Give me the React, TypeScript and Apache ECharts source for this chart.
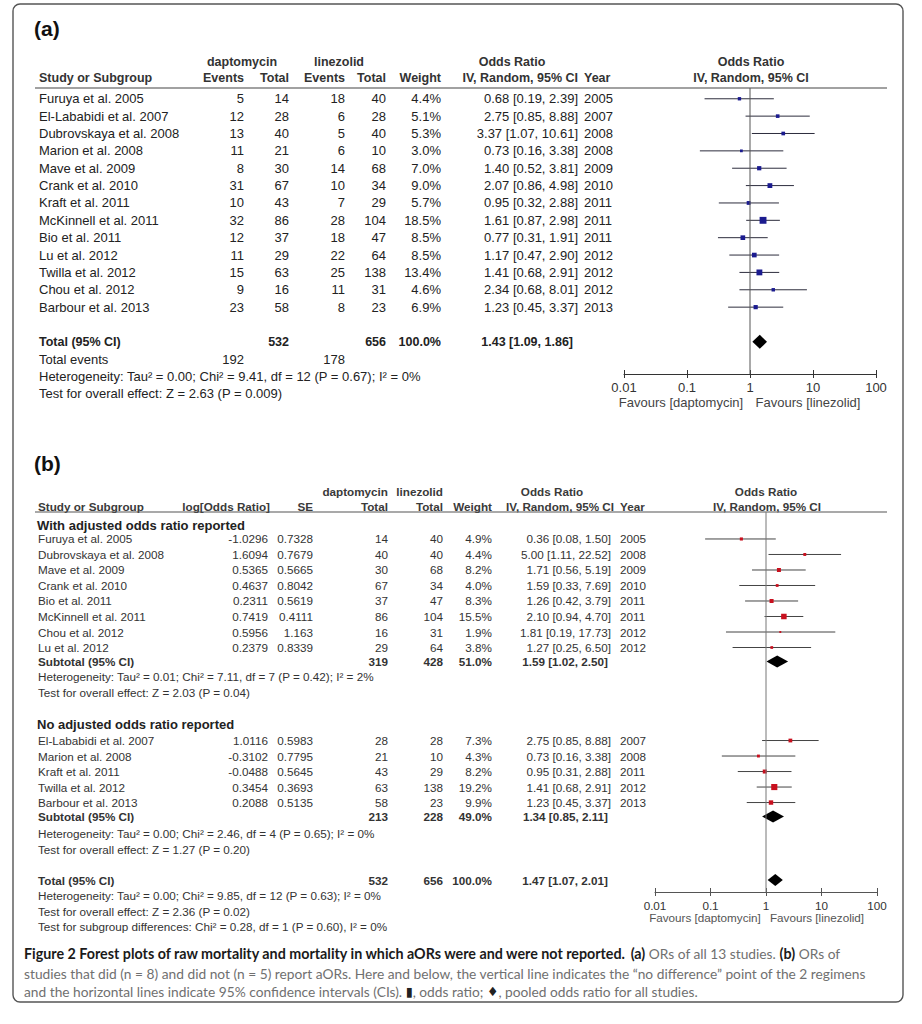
import React, { useEffect, useRef } from "react";
import * as echarts from "echarts";

// ---------------- DATA: panel (a) ----------------
const studiesA = [
  "Furuya et al. 2005", "El-Lababidi et al. 2007", "Dubrovskaya et al. 2008", "Marion et al. 2008",
  "Mave et al. 2009", "Crank et al. 2010", "Kraft et al. 2011", "McKinnell et al. 2011",
  "Bio et al. 2011", "Lu et al. 2012", "Twilla et al. 2012", "Chou et al. 2012", "Barbour et al. 2013",
];
const dapEventsA = [5, 12, 13, 11, 8, 31, 10, 32, 12, 11, 15, 9, 23];
const dapTotalA = [14, 28, 40, 21, 30, 67, 43, 86, 37, 29, 63, 16, 58];
const linEventsA = [18, 6, 5, 6, 14, 10, 7, 28, 18, 22, 25, 11, 8];
const linTotalA = [40, 28, 40, 10, 68, 34, 29, 104, 47, 64, 138, 31, 23];
const weightA = [4.4, 5.1, 5.3, 3.0, 7.0, 9.0, 5.7, 18.5, 8.5, 8.5, 13.4, 4.6, 6.9];
const orA = [0.68, 2.75, 3.37, 0.73, 1.40, 2.07, 0.95, 1.61, 0.77, 1.17, 1.41, 2.34, 1.23];
const loA = [0.19, 0.85, 1.07, 0.16, 0.52, 0.86, 0.32, 0.87, 0.31, 0.47, 0.68, 0.68, 0.45];
const hiA = [2.39, 8.88, 10.61, 3.38, 3.81, 4.98, 2.88, 2.98, 1.91, 2.90, 2.91, 8.01, 3.37];
const yearA = [2005, 2007, 2008, 2008, 2009, 2010, 2011, 2011, 2011, 2012, 2012, 2012, 2013];
const pooledA = [1.43, 1.09, 1.86]; // OR, lo, hi
const totalsA = [532, 656, 100.0]; // dap total, lin total, weight
const totalEventsA = [192, 178];
const hetA = "Heterogeneity: Tau² = 0.00; Chi² = 9.41, df = 12 (P = 0.67); I² = 0%";
const testA = "Test for overall effect: Z = 2.63 (P = 0.009)";

// ---------------- DATA: panel (b) ----------------
const studiesB1 = [
  "Furuya et al. 2005", "Dubrovskaya et al. 2008", "Mave et al. 2009", "Crank et al. 2010",
  "Bio et al. 2011", "McKinnell et al. 2011", "Chou et al. 2012", "Lu et al. 2012",
];
const logOrB1 = [-1.0296, 1.6094, 0.5365, 0.4637, 0.2311, 0.7419, 0.5956, 0.2379];
const seB1 = [0.7328, 0.7679, 0.5665, 0.8042, 0.5619, 0.4111, 1.163, 0.8339];
const dapTotalB1 = [14, 40, 30, 67, 37, 86, 16, 29];
const linTotalB1 = [40, 40, 68, 34, 47, 104, 31, 64];
const weightB1 = [4.9, 4.4, 8.2, 4.0, 8.3, 15.5, 1.9, 3.8];
const orB1 = [0.36, 5.00, 1.71, 1.59, 1.26, 2.10, 1.81, 1.27];
const loB1 = [0.08, 1.11, 0.56, 0.33, 0.42, 0.94, 0.19, 0.25];
const hiB1 = [1.50, 22.52, 5.19, 7.69, 3.79, 4.70, 17.73, 6.50];
const yearB1 = [2005, 2008, 2009, 2010, 2011, 2011, 2012, 2012];
const subtotalB1 = [1.59, 1.02, 2.50];
const subTotalsB1 = [319, 428, 51.0];
const hetB1 = "Heterogeneity: Tau² = 0.01; Chi² = 7.11, df = 7 (P = 0.42); I² = 2%";
const testB1 = "Test for overall effect: Z = 2.03 (P = 0.04)";

const studiesB2 = ["El-Lababidi et al. 2007", "Marion et al. 2008", "Kraft et al. 2011", "Twilla et al. 2012", "Barbour et al. 2013"];
const logOrB2 = [1.0116, -0.3102, -0.0488, 0.3454, 0.2088];
const seB2 = [0.5983, 0.7795, 0.5645, 0.3693, 0.5135];
const dapTotalB2 = [28, 21, 43, 63, 58];
const linTotalB2 = [28, 10, 29, 138, 23];
const weightB2 = [7.3, 4.3, 8.2, 19.2, 9.9];
const orB2 = [2.75, 0.73, 0.95, 1.41, 1.23];
const loB2 = [0.85, 0.16, 0.31, 0.68, 0.45];
const hiB2 = [8.88, 3.38, 2.88, 2.91, 3.37];
const yearB2 = [2007, 2008, 2011, 2012, 2013];
const subtotalB2 = [1.34, 0.85, 2.11];
const subTotalsB2 = [213, 228, 49.0];
const hetB2 = "Heterogeneity: Tau² = 0.00; Chi² = 2.46, df = 4 (P = 0.65); I² = 0%";
const testB2 = "Test for overall effect: Z = 1.27 (P = 0.20)";

const pooledB = [1.47, 1.07, 2.01];
const totalsB = [532, 656, 100.0];
const hetB = "Heterogeneity: Tau² = 0.00; Chi² = 9.85, df = 12 (P = 0.63); I² = 0%";
const testB = "Test for overall effect: Z = 2.36 (P = 0.02)";
const subgroupB = "Test for subgroup differences: Chi² = 0.28, df = 1 (P = 0.60), I² = 0%";

const tickLabels = ["0.01", "0.1", "1", "10", "100"];

// ---------------- LAYOUT ----------------
const FONT = "'Liberation Sans', Arial, sans-serif";
const CAP_FONT = "Lato, 'DejaVu Sans', sans-serif";
const SA = 13; // font size panel a
const SB = 11.7; // font size panel b
const COL_A = "#222";
const COL_B = "#333";

// rows of panel (a): studies 0..12, total 14, events 15, het 16, test 17
const rowsAStudy = studiesA.map((_, i) => i);
const ROW_A_TOTAL = 14;
// rows of panel (b)
const rowsB1 = studiesB1.map((_, i) => i);
const rowsB2 = studiesB2.map((_, i) => 13 + i);
const ROW_B = { g1: -0.9, sub1: 7.9, het1: 8.9, test1: 9.9, g2: 11.95, sub2: 17.9, het2: 19, test2: 20, tot: 22, het: 23, test: 24, sg: 25 };

const f2 = (v: number) => v.toFixed(2);
const ciText = (o: number, l: number, h: number) => `${f2(o)} [${f2(l)}, ${f2(h)}]`;
const pct = (w: number) => `${w.toFixed(1)}%`;

type Cell = { t: string; x: number; a?: string; b?: boolean; s?: number; c?: string };
type Line = { row: number; cells: Cell[] };

function T(x: number, y: number, text: string, o: any = {}) {
  const align = o.align || "left";
  return {
    type: "text",
    x,
    y,
    silent: true,
    style: {
      text,
      fill: o.fill || COL_A,
      fontSize: o.size || SA,
      fontFamily: o.font || FONT,
      fontWeight: o.bold ? "bold" : "normal",
      align,
      textAlign: align,
      verticalAlign: "middle",
      textVerticalAlign: "middle",
    },
  };
}

// ---- panel (a) text lines
const linesA: Line[] = [];
studiesA.forEach((s, i) => {
  linesA.push({
    row: rowsAStudy[i],
    cells: [
      { t: s, x: 39 },
      { t: String(dapEventsA[i]), x: 244, a: "right" },
      { t: String(dapTotalA[i]), x: 289, a: "right" },
      { t: String(linEventsA[i]), x: 345, a: "right" },
      { t: String(linTotalA[i]), x: 386, a: "right" },
      { t: pct(weightA[i]), x: 441, a: "right" },
      { t: ciText(orA[i], loA[i], hiA[i]), x: 578, a: "right" },
      { t: String(yearA[i]), x: 584 },
    ],
  });
});
linesA.push({
  row: ROW_A_TOTAL,
  cells: [
    { t: "Total (95% CI)", x: 39, b: true, s: 12.5 },
    { t: String(totalsA[0]), x: 289, a: "right", b: true, s: 12.5 },
    { t: String(totalsA[1]), x: 386, a: "right", b: true, s: 12.5 },
    { t: pct(totalsA[2]), x: 441, a: "right", b: true, s: 12.5 },
    { t: ciText(pooledA[0], pooledA[1], pooledA[2]), x: 573, a: "right", b: true, s: 12.5 },
  ],
});
linesA.push({
  row: 15,
  cells: [
    { t: "Total events", x: 39 },
    { t: String(totalEventsA[0]), x: 244, a: "right" },
    { t: String(totalEventsA[1]), x: 345, a: "right" },
  ],
});
linesA.push({ row: 16, cells: [{ t: hetA, x: 39 }] });
linesA.push({ row: 17, cells: [{ t: testA, x: 39 }] });

// ---- panel (b) text lines
const linesB: Line[] = [];
const studyCellsB = (s: string, lo: number, se: number, dt: number, lt: number, w: number, o: number, l: number, h: number, y: number): Cell[] => [
  { t: s, x: 38 },
  { t: String(lo), x: 268, a: "right" },
  { t: String(se), x: 313, a: "right" },
  { t: String(dt), x: 388, a: "right" },
  { t: String(lt), x: 443, a: "right" },
  { t: pct(w), x: 492, a: "right" },
  { t: ciText(o, l, h), x: 611, a: "right" },
  { t: String(y), x: 620 },
];
const subCellsB = (label: string, tots: number[], p: number[]): Cell[] => [
  { t: label, x: 38, b: true },
  { t: String(tots[0]), x: 388, a: "right", b: true },
  { t: String(tots[1]), x: 443, a: "right", b: true },
  { t: pct(tots[2]), x: 492, a: "right", b: true },
  { t: ciText(p[0], p[1], p[2]), x: 608, a: "right", b: true },
];
linesB.push({ row: ROW_B.g1, cells: [{ t: "With adjusted odds ratio reported", x: 37, b: true, s: 13, c: "#222" }] });
studiesB1.forEach((s, i) =>
  linesB.push({ row: rowsB1[i], cells: studyCellsB(s, logOrB1[i], seB1[i], dapTotalB1[i], linTotalB1[i], weightB1[i], orB1[i], loB1[i], hiB1[i], yearB1[i]) })
);
linesB.push({ row: ROW_B.sub1, cells: subCellsB("Subtotal (95% CI)", subTotalsB1, subtotalB1) });
linesB.push({ row: ROW_B.het1, cells: [{ t: hetB1, x: 38 }] });
linesB.push({ row: ROW_B.test1, cells: [{ t: testB1, x: 38 }] });
linesB.push({ row: ROW_B.g2, cells: [{ t: "No adjusted odds ratio reported", x: 37, b: true, s: 13, c: "#222" }] });
studiesB2.forEach((s, i) =>
  linesB.push({ row: rowsB2[i], cells: studyCellsB(s, logOrB2[i], seB2[i], dapTotalB2[i], linTotalB2[i], weightB2[i], orB2[i], loB2[i], hiB2[i], yearB2[i]) })
);
linesB.push({ row: ROW_B.sub2, cells: subCellsB("Subtotal (95% CI)", subTotalsB2, subtotalB2) });
linesB.push({ row: ROW_B.het2, cells: [{ t: hetB2, x: 38 }] });
linesB.push({ row: ROW_B.test2, cells: [{ t: testB2, x: 38 }] });
linesB.push({ row: ROW_B.tot, cells: subCellsB("Total (95% CI)", totalsB, pooledB) });
linesB.push({ row: ROW_B.het, cells: [{ t: hetB, x: 38 }] });
linesB.push({ row: ROW_B.test, cells: [{ t: testB, x: 38 }] });
linesB.push({ row: ROW_B.sg, cells: [{ t: subgroupB, x: 38 }] });

// axis extents (row units)
const A_Y = [-0.62, 15.85];
const B_Y = [-1.74, 22.77];

function textSeries(lines: Line[], xi: number, size: number, color: string) {
  return {
    type: "custom",
    xAxisIndex: xi,
    yAxisIndex: xi === 0 ? 0 : 1,
    clip: false,
    silent: true,
    encode: { x: 0, y: 1 },
    data: lines.map((l, i) => [1, l.row, i]),
    renderItem: (_p: any, api: any) => {
      const line = lines[api.value(2)];
      const y = api.coord([1, api.value(1)])[1];
      return {
        type: "group",
        children: line.cells.map((c) => T(c.x, y, c.t, { align: c.a, bold: c.b, size: c.s || size, fill: c.c || color })),
      };
    },
  };
}

function forestSeries(xi: number, yi: number, ors: number[], los: number[], his: number[], rows: number[], ws: number[], k: number, sq: string, ln: string) {
  return {
    type: "custom",
    xAxisIndex: xi,
    yAxisIndex: yi,
    clip: false,
    silent: true,
    encode: { x: [0, 1, 2], y: 3 },
    data: ors.map((o, i) => [o, los[i], his[i], rows[i], ws[i]]),
    renderItem: (_p: any, api: any) => {
      const r = api.value(3);
      const e = api.coord([api.value(0), r]);
      const l = api.coord([api.value(1), r]);
      const h = api.coord([api.value(2), r]);
      const s = k * Math.sqrt(api.value(4));
      return {
        type: "group",
        children: [
          { type: "line", shape: { x1: l[0], y1: l[1], x2: h[0], y2: h[1] }, style: { stroke: ln, lineWidth: 1 } },
          { type: "rect", shape: { x: e[0] - s / 2, y: e[1] - s / 2, width: s, height: s }, style: { fill: sq } },
        ],
      };
    },
  };
}

function diamondSeries(xi: number, yi: number, items: number[][], rows: number[], hh: number) {
  return {
    type: "custom",
    xAxisIndex: xi,
    yAxisIndex: yi,
    clip: false,
    silent: true,
    encode: { x: [0, 1, 2], y: 3 },
    data: items.map((p, i) => [p[0], p[1], p[2], rows[i]]),
    renderItem: (_p: any, api: any) => {
      const r = api.value(3);
      const e = api.coord([api.value(0), r]);
      const l = api.coord([api.value(1), r]);
      const h = api.coord([api.value(2), r]);
      return {
        type: "polygon",
        shape: { points: [[l[0], e[1]], [e[0], e[1] - hh], [h[0], e[1]], [e[0], e[1] + hh]] },
        style: { fill: "#000" },
      };
    },
  };
}

function xAxes(grid: number, size: number, color: string) {
  const base = {
    type: "log",
    logBase: 10,
    min: 0.01,
    max: 100,
    gridIndex: grid,
    position: "bottom",
    splitLine: { show: false },
    minorTick: { show: false },
  };
  return [
    {
      ...base,
      axisLine: { show: true, onZero: false, lineStyle: { color, width: 1 } },
      axisTick: { show: true, inside: true, length: 4, lineStyle: { color, width: 1 } },
      axisLabel: {
        show: true,
        margin: 7,
        fontSize: size,
        fontFamily: FONT,
        color: "#333",
        formatter: (v: number) => tickLabels[Math.round(Math.log10(v)) + 2],
      },
    },
    {
      ...base,
      axisLine: { show: false, onZero: false },
      axisTick: { show: true, inside: false, length: 4, lineStyle: { color, width: 1 } },
      axisLabel: { show: false },
    },
  ];
}

function buildOption() {
  const graphic: any[] = [];
  // outer frame
  graphic.push({
    type: "rect",
    shape: { x: 13, y: 4, width: 890, height: 998, r: 7 },
    style: { fill: "none", stroke: "#555", lineWidth: 1.4 },
    silent: true,
  });
  // ---------- panel (a) headers
  graphic.push(T(34, 28, "(a)", { size: 21, bold: true, fill: "#111" }));
  const hA1 = 62, hA2 = 78;
  const hb = { bold: true, fill: "#333", size: 12.5 };
  graphic.push(T(242, hA1, "daptomycin", { ...hb, align: "center" }));
  graphic.push(T(339, hA1, "linezolid", { ...hb, align: "center" }));
  graphic.push(T(512, hA1, "Odds Ratio", { ...hb, align: "center" }));
  graphic.push(T(751, hA1, "Odds Ratio", { ...hb, align: "center" }));
  graphic.push(T(39, hA2, "Study or Subgroup", hb));
  graphic.push(T(244, hA2, "Events", { ...hb, align: "right" }));
  graphic.push(T(289, hA2, "Total", { ...hb, align: "right" }));
  graphic.push(T(345, hA2, "Events", { ...hb, align: "right" }));
  graphic.push(T(386, hA2, "Total", { ...hb, align: "right" }));
  graphic.push(T(441, hA2, "Weight", { ...hb, align: "right" }));
  graphic.push(T(578, hA2, "IV, Random, 95% CI", { ...hb, align: "right" }));
  graphic.push(T(584, hA2, "Year", hb));
  graphic.push(T(751, hA2, "IV, Random, 95% CI", { ...hb, align: "center" }));
  graphic.push({ type: "line", shape: { x1: 35, y1: 88, x2: 887, y2: 88 }, style: { stroke: "#444", lineWidth: 1.2 }, silent: true });
  graphic.push(T(681, 402, "Favours [daptomycin]", { fill: "#444", align: "center" }));
  graphic.push(T(808, 402, "Favours [linezolid]", { fill: "#444", align: "center" }));

  // ---------- panel (b) headers
  graphic.push(T(34, 463, "(b)", { size: 21, bold: true, fill: "#111" }));
  const hB1 = 491, hB2 = 506;
  const hbb = { bold: true, fill: "#3a3a3a", size: SB };
  graphic.push(T(388, hB1, "daptomycin", { ...hbb, align: "right" }));
  graphic.push(T(443, hB1, "linezolid", { ...hbb, align: "right" }));
  graphic.push(T(552, hB1, "Odds Ratio", { ...hbb, align: "center" }));
  graphic.push(T(766, hB1, "Odds Ratio", { ...hbb, align: "center" }));
  graphic.push(T(38, hB2, "Study or Subgroup", hbb));
  graphic.push(T(270, hB2, "log[Odds Ratio]", { ...hbb, align: "right" }));
  graphic.push(T(313, hB2, "SE", { ...hbb, align: "right" }));
  graphic.push(T(388, hB2, "Total", { ...hbb, align: "right" }));
  graphic.push(T(443, hB2, "Total", { ...hbb, align: "right" }));
  graphic.push(T(492, hB2, "Weight", { ...hbb, align: "right" }));
  graphic.push(T(614, hB2, "IV, Random, 95% CI", { ...hbb, align: "right" }));
  graphic.push(T(620, hB2, "Year", hbb));
  graphic.push(T(767, hB2, "IV, Random, 95% CI", { ...hbb, align: "center" }));
  graphic.push({ type: "line", shape: { x1: 35, y1: 512, x2: 887, y2: 512 }, style: { stroke: "#555", lineWidth: 1.2 }, silent: true });
  graphic.push(T(705, 917, "Favours [daptomycin]", { fill: "#555", align: "center", size: SB }));
  graphic.push(T(817, 917, "Favours [linezolid]", { fill: "#555", align: "center", size: SB }));

  // ---------- caption
  const CB = 14.3;
  const CN = 13.75;
  const rich = {
    b: { fontWeight: "bold", fill: "#1a1a1a", color: "#1a1a1a", fontSize: CB, fontFamily: CAP_FONT },
    n: { fontWeight: "normal", fill: "#707070", color: "#707070", fontSize: CN, fontFamily: CAP_FONT },
    k: { fontWeight: "normal", fill: "#222", color: "#222", fontSize: CN - 1, fontFamily: "'DejaVu Sans', sans-serif" },
  };
  const capLines = [
    "{b|Figure 2 Forest plots of raw mortality and mortality in which aORs were and were not reported.} {b|(a)}{n| ORs of all 13 studies. }{b|(b)}{n| ORs of}",
    "{n|studies that did (n = 8) and did not (n = 5) report aORs. Here and below, the vertical line indicates the “no difference” point of the 2 regimens}",
    "{n|and the horizontal lines indicate 95% confidence intervals (CIs). }{k|▮}{n|, odds ratio; }{k|♦}{n|, pooled odds ratio for all studies.}",
  ];
  const capY = [953, 973, 991];
  capLines.forEach((t, i) =>
    graphic.push({
      type: "text",
      x: 24,
      y: capY[i],
      silent: true,
      style: { text: t, rich, fontSize: CN, fontFamily: CAP_FONT, align: "left", verticalAlign: "middle", textVerticalAlign: "middle" },
    })
  );

  return {
    animation: false,
    backgroundColor: "#fff",
    grid: [
      { left: 624, top: 88, width: 252, height: 286 },
      { left: 655, top: 512, width: 222, height: 380 },
    ],
    xAxis: [...xAxes(0, SA, "#333"), ...xAxes(1, SB, "#555")],
    yAxis: [
      { type: "value", gridIndex: 0, inverse: true, min: A_Y[0], max: A_Y[1], show: false },
      { type: "value", gridIndex: 1, inverse: true, min: B_Y[0], max: B_Y[1], show: false },
    ],
    series: [
      // vertical "no difference" lines
      {
        type: "line", xAxisIndex: 0, yAxisIndex: 0, symbol: "none", silent: true,
        data: [[1, A_Y[0]], [1, A_Y[1]]], lineStyle: { color: "#555", width: 1 },
      },
      {
        type: "line", xAxisIndex: 2, yAxisIndex: 1, symbol: "none", silent: true,
        data: [[1, B_Y[0]], [1, B_Y[1]]], lineStyle: { color: "#777", width: 1 },
      },
      textSeries(linesA, 0, SA, COL_A),
      textSeries(linesB, 2, SB, COL_B),
      forestSeries(0, 0, orA, loA, hiA, rowsAStudy, weightA, 1.6, "#1b1b8f", "#2d2d3d"),
      forestSeries(2, 1, orB1, loB1, hiB1, rowsB1, weightB1, 1.4, "#c8101e", "#444"),
      forestSeries(2, 1, orB2, loB2, hiB2, rowsB2, weightB2, 1.4, "#c8101e", "#444"),
      diamondSeries(0, 0, [pooledA], [ROW_A_TOTAL], 7),
      diamondSeries(2, 1, [subtotalB1, subtotalB2, pooledB], [ROW_B.sub1, ROW_B.sub2, ROW_B.tot], 6),
    ],
    graphic,
  };
}

export default function App() {
  const ref = useRef<HTMLDivElement>(null);
  useEffect(() => {
    if (!ref.current) return;
    const chart = echarts.init(ref.current, null, { renderer: "svg" });
    chart.setOption(buildOption() as any);
    return () => chart.dispose();
  }, []);
  return (
    <div
      ref={ref}
      style={{ position: "absolute", left: 0, top: 0, width: 922, height: 1024, background: "#fff" }}
    />
  );
}
